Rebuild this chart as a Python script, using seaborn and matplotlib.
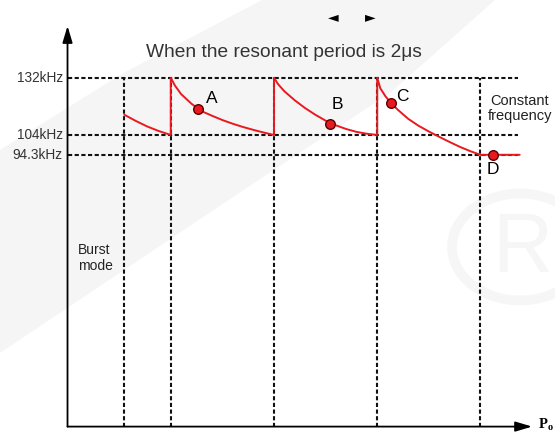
import matplotlib
matplotlib.use("Agg")
import matplotlib.pyplot as plt
import seaborn as sns
import pandas as pd
from matplotlib.patches import Polygon, Circle

# frequency levels marked on the y axis (kHz)
freq_levels = [132, 104, 94.3]
freq_labels = ["132kHz", "104kHz", "94.3kHz"]

# load boundaries (vertical guides), arbitrary power units
load_marks = [0.55, 1, 2, 3, 4]

# switching frequency vs load (continuous trace)
trace_x = [0.55, 0.66, 0.77, 0.88, 1.0,
           1.0, 1.04, 1.1, 1.2, 1.3, 1.4, 1.5, 1.6, 1.7, 1.8, 1.9, 2.0,
           2.0, 2.04, 2.1, 2.2, 2.3, 2.4, 2.5, 2.6, 2.7, 2.8, 2.9, 3.0,
           3.0, 3.03, 3.08, 3.13, 3.2, 3.3, 3.4, 3.5, 3.6, 3.7, 3.8, 3.9, 4.0,
           4.38]
trace_f = [113.9, 110.9, 108.2, 106.0, 104.0,
           132.0, 128.2, 124.0, 119.3, 115.6, 113.4, 111.3, 109.5, 107.9, 106.5, 105.2, 104.0,
           132.0, 128.8, 125.4, 121.0, 117.2, 113.9, 111.0, 108.7, 106.9, 105.5, 104.6, 104.0,
           132.0, 126.8, 122.9, 119.8, 116.3, 111.9, 108.5, 105.7, 103.1, 100.6, 98.2, 96.1, 94.3,
           94.3]

# operating points
pt_names = ["A", "B", "C", "D"]
pt_x = [1.267, 2.545, 3.13, 4.124]
pt_f = [116.5, 109.5, 119.8, 94.3]

trace = pd.DataFrame({"load": trace_x, "freq": trace_f})
points = pd.DataFrame({"name": pt_names, "load": pt_x, "freq": pt_f})

sns.set_style("white")
plt.rcParams['font.family'] = ['Liberation Sans', 'DejaVu Sans']

fig = plt.figure(figsize=(5.55, 4.36), dpi=100)
ax = fig.add_axes([0, 0, 1, 1])

# faint watermark in the background (axes fraction, axes fills the figure)
band = Polygon([(0, 1 - 150 / 436), (120 / 555, 1 - 75 / 436), (262 / 555, 1),
                (495 / 555, 1), (390 / 555, 1 - 93 / 436), (248 / 555, 1 - 187 / 436),
                (0, 1 - 353 / 436)],
               closed=True, transform=ax.transAxes, fc="#f5f5f5", zorder=0, lw=0)
ax.add_patch(band)
ring = Circle((520 / 555, 1 - 247 / 436), 68 / 555, transform=ax.transAxes,
              fill=False, lw=7, ec="#f6f6f6", zorder=0)
ax.add_patch(ring)
ax.text(522 / 555, 1 - 250 / 436, "R", transform=ax.transAxes, fontsize=60,
        color="#f6f6f6", ha="center", va="center", zorder=0)

y_top = 157.3
y_bot = -38.6
x_end = 4.5
guide_end = 4.363

dash = (0, (2.0, 1.2))
ax.hlines(freq_levels, 0, guide_end, colors="#111111", linestyles=dash, lw=1.5, zorder=2)
ax.vlines(load_marks, y_bot, freq_levels[0], colors="#111111", linestyles=dash, lw=1.5, zorder=2)

for f, lab in zip(freq_levels, freq_labels):
    ax.text(-0.045, f, lab, ha="right", va="center", fontsize=9.8, color="#333333")

# axes with arrows
ax.annotate("", xy=(0, y_top), xytext=(0, y_bot),
            arrowprops=dict(arrowstyle="-|>,head_length=1.0,head_width=0.3",
                            color="black", lw=1.3, shrinkA=0, shrinkB=0))
ax.annotate("", xy=(x_end, y_bot), xytext=(0, y_bot),
            arrowprops=dict(arrowstyle="-|>,head_length=1.0,head_width=0.3",
                            color="black", lw=1.3, shrinkA=0, shrinkB=0))

sns.lineplot(data=trace, x="load", y="freq", sort=False, estimator=None,
             color="#e8191f", lw=1.4, ax=ax, zorder=3)
sns.scatterplot(data=points, x="load", y="freq", s=48, color="#e8191f",
                edgecolor="#5a0000", linewidth=1.0, ax=ax, zorder=4)
ax.set_xlim(-0.654, 4.722)
ax.set_ylim(-43.2, 170.0)
ax.axis("off")

label_pos = {"A": (1.397, 121.6), "B": (2.615, 118.7), "C": (3.24, 123.0), "D": (4.121, 87.1)}
for name in pt_names:
    lx, ly = label_pos[name]
    ax.text(lx, ly, name, ha="center", va="center", fontsize=12.5, color="black")

ax.text(2.097, 144.1, "When the resonant period is 2μs", ha="center", va="center",
        fontsize=13.8, color="#333333")
ax.text(2.571, 161.7, "◄", ha="center", va="center", fontsize=10,
        family=["DejaVu Sans"], color="black")
ax.text(2.93, 161.7, "►", ha="center", va="center", fontsize=10,
        family=["DejaVu Sans"], color="black")

ax.text(4.383, 116.9, "Constant\nfrequency", ha="center", va="center",
        fontsize=10.5, color="#222222", linespacing=1.15)
ax.text(0.102, 43.7, "Burst\nmode", ha="left", va="center",
        fontsize=10, color="#222222", linespacing=1.15)

ax.text(4.555, -37.6, r"P$_\mathregular{o}$", ha="left", va="center", fontsize=10.5,
        family=["Liberation Serif"], fontweight="bold", color="black")

fig.savefig("out.png", dpi=100)
